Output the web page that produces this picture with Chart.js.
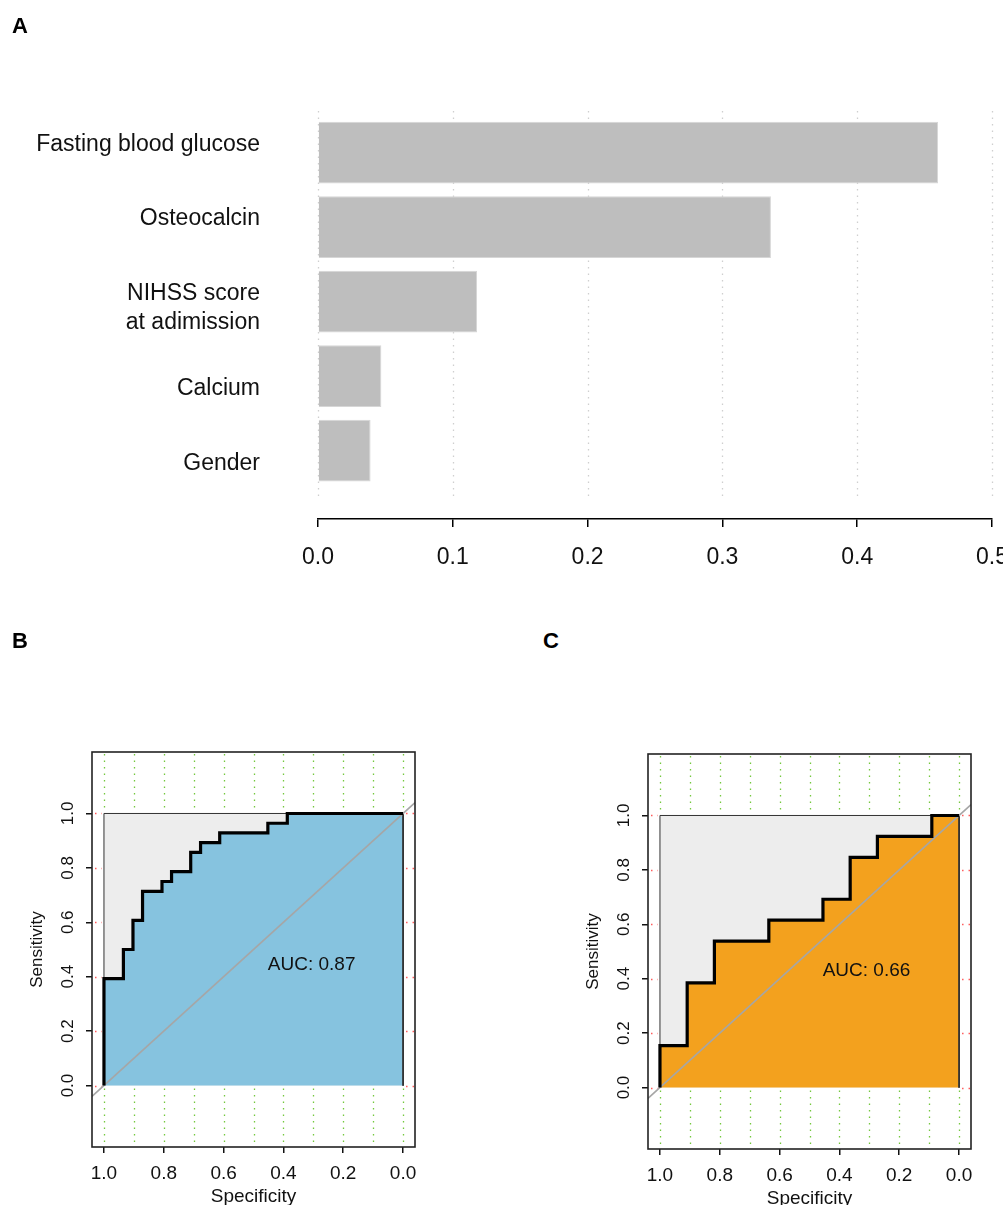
<!DOCTYPE html>
<html>
<head>
<meta charset="utf-8">
<script src="https://cdn.jsdelivr.net/npm/chart.js@4.4.1/dist/chart.umd.min.js"></script>
<style>
html,body{margin:0;padding:0;background:#fff;overflow:hidden;width:1003px;height:1205px;}
#wrap{position:relative;width:1003px;height:1205px;overflow:hidden;}
canvas{position:absolute;}
.lab{position:absolute;font:bold 22px "Liberation Sans",Arial,sans-serif;line-height:1;color:#000;}
</style>
</head>
<body>
<div id="wrap">
<canvas id="cA" width="1040" height="600" style="left:0;top:0"></canvas>
<canvas id="cB" width="480" height="520" style="left:0;top:700px"></canvas>
<canvas id="cC" width="480" height="520" style="left:556px;top:702px"></canvas>
<div class="lab" style="left:12px;top:15px">A</div>
<div class="lab" style="left:12px;top:630px">B</div>
<div class="lab" style="left:543px;top:630px">C</div>
</div>
<script>
// ---------- Panel A data ----------
const categories = ['Fasting blood glucose', 'Osteocalcin', ['NIHSS score', 'at adimission'], 'Calcium', 'Gender'];
const importance = [0.460, 0.336, 0.118, 0.047, 0.039];
const xTicksA = [0, 0.1, 0.2, 0.3, 0.4, 0.5];
const xTickLabelsA = ['0.0', '0.1', '0.2', '0.3', '0.4', '0.5'];

// ---------- Panel B / C data (ROC steps: sensitivity reached at each specificity) ----------
const rocB_spec = [1.000, 0.935, 0.903, 0.871, 0.806, 0.774, 0.710, 0.677, 0.613, 0.452, 0.387, 0.000];
const rocB_sens = [0.393, 0.500, 0.607, 0.714, 0.750, 0.786, 0.857, 0.893, 0.929, 0.964, 1.000, 1.000];
const aucB = 'AUC: 0.87';

const rocC_spec = [1.000, 0.909, 0.818, 0.636, 0.455, 0.364, 0.273, 0.091, 0.000];
const rocC_sens = [0.154, 0.385, 0.538, 0.615, 0.692, 0.846, 0.923, 1.000, 1.000];
const aucC = 'AUC: 0.66';

const rocTicks = [0, 0.2, 0.4, 0.6, 0.8, 1.0];
const rocTickLabels = ['0.0', '0.2', '0.4', '0.6', '0.8', '1.0'];
const specGrid = [0, 0.1, 0.2, 0.3, 0.4, 0.5, 0.6, 0.7, 0.8, 0.9, 1.0];
const sensGrid = [0, 0.2, 0.4, 0.6, 0.8, 1.0];
const squareSpec = [1, 1, 0, 0];
const squareSens = [0, 1, 1, 0];
const diagSpec = [1.04, -0.04];
const diagSens = [-0.04, 1.04];

Chart.defaults.font.family = '"Liberation Sans", Arial, Helvetica, sans-serif';
Chart.defaults.color = '#111';

// ---------- Panel A ----------
const barCenter = i => 0.7 + 1.2 * i;            // R barplot layout (width 1, space 0.2)
const labelNudge = [-0.13, -0.137, 0.10, 0.205, 0.215]; // label placement offsets (axis units)
const gridTopA = 0.028, gridBottomA = 6.246;

const gridPluginA = {
  id: 'gridA',
  beforeDatasetsDraw(chart) {
    const {ctx, scales: {x, y}} = chart;
    ctx.save();
    ctx.strokeStyle = '#CFCFCF';
    ctx.lineWidth = 1.3;
    ctx.setLineDash([1.5, 5]);
    const t = y.getPixelForValue(gridTopA), b = y.getPixelForValue(gridBottomA);
    xTicksA.forEach(v => {
      const px = Math.round(x.getPixelForValue(v)) + 0.5;
      ctx.beginPath(); ctx.moveTo(px, t); ctx.lineTo(px, b); ctx.stroke();
    });
    ctx.restore();
  }
};

new Chart(document.getElementById('cA'), {
  type: 'bar',
  data: {
    datasets: [{
      data: importance.map((v, i) => ({x: v, y: barCenter(i)})),
      backgroundColor: '#BEBEBE',
      borderColor: '#D6D6D6',
      borderWidth: 1,
      categoryPercentage: 1,
      barPercentage: 0.8333
    }]
  },
  options: {
    indexAxis: 'y',
    responsive: false,
    animation: false,
    events: [],
    layout: {padding: {top: 111, left: 0, right: 48, bottom: 0}},
    plugins: {legend: {display: false}, tooltip: {enabled: false}},
    scales: {
      x: {
        type: 'linear', min: 0, max: 0.5,
        afterBuildTicks: s => { s.ticks = xTicksA.map(v => ({value: v})); },
        ticks: {callback: (v, i) => xTickLabelsA[i], font: {size: 23}, color: '#111', padding: 17},
        grid: {drawOnChartArea: false, drawTicks: true, tickLength: 8, color: '#000', lineWidth: 1.5},
        border: {display: true, color: '#000', width: 1.5},
        afterFit: s => { s.height = 81; }
      },
      y: {
        type: 'linear', reverse: true, min: gridTopA, max: 6.6, offset: false,
        afterBuildTicks: s => { s.ticks = categories.map((c, i) => ({value: barCenter(i) + labelNudge[i]})); },
        ticks: {callback: (v, i) => categories[i], font: {size: 23, lineHeight: 1.27}, color: '#111', padding: 58},
        grid: {display: false, drawTicks: false, offset: false},
        border: {display: false},
        afterFit: s => { s.width = 318; }
      }
    }
  },
  plugins: [gridPluginA]
});

// ---------- ROC panels ----------
function stepVertices(spec, sens) {
  const pts = [{x: 1, y: 0}];
  let prev = 0;
  spec.forEach((s, i) => {
    pts.push({x: s, y: prev});
    pts.push({x: s, y: sens[i]});
    prev = sens[i];
  });
  return pts;
}

function makeRoc(id, spec, sens, fillColor, aucText, aucPos) {
  const curve = stepVertices(spec, sens);
  const polygon = curve.concat([{x: 0, y: 0}]);
  const square = squareSpec.map((s, i) => ({x: s, y: squareSens[i]}));
  const diag = diagSpec.map((s, i) => ({x: s, y: diagSens[i]}));

  const rocPlugin = {
    id: 'roc_' + id,
    beforeDatasetsDraw(chart) {
      // grid lines (the parts not hidden by the filled unit square)
      const {ctx, chartArea: a, scales: {x, y}} = chart;
      const y1 = y.getPixelForValue(1), y0 = y.getPixelForValue(0);
      const x1 = x.getPixelForValue(1), x0 = x.getPixelForValue(0);
      ctx.save();
      ctx.lineWidth = 1.3;
      ctx.setLineDash([1.5, 5]);
      ctx.strokeStyle = '#74C83E';
      specGrid.forEach(v => {
        const px = Math.round(x.getPixelForValue(v)) + 0.5;
        ctx.beginPath(); ctx.moveTo(px, a.top + 2); ctx.lineTo(px, y1 - 1); ctx.stroke();
        ctx.beginPath(); ctx.moveTo(px, y0 + 3); ctx.lineTo(px, a.bottom); ctx.stroke();
      });
      ctx.strokeStyle = '#FF5C5C';
      sensGrid.forEach(v => {
        const py = Math.round(y.getPixelForValue(v)) + 0.5;
        ctx.beginPath(); ctx.moveTo(a.left + 3, py); ctx.lineTo(x1 - 2, py); ctx.stroke();
        ctx.beginPath(); ctx.moveTo(x0 + 3, py); ctx.lineTo(a.right, py); ctx.stroke();
      });
      ctx.restore();
    },
    afterDatasetsDraw(chart) {
      const {ctx, chartArea: a, scales: {x, y}} = chart;
      ctx.save();
      ctx.fillStyle = '#111';
      ctx.font = '19px "Liberation Sans", Arial, sans-serif';
      ctx.textAlign = 'left';
      ctx.textBaseline = 'middle';
      ctx.fillText(aucText, x.getPixelForValue(aucPos[0]), y.getPixelForValue(aucPos[1]));
      ctx.strokeStyle = '#222';
      ctx.lineWidth = 1.6;
      ctx.strokeRect(a.left, a.top, a.right - a.left, a.bottom - a.top);
      ctx.restore();
    }
  };

  new Chart(document.getElementById(id), {
    type: 'scatter',
    data: {
      datasets: [
        {data: curve, showLine: true, borderColor: '#000', borderWidth: 3.2, pointRadius: 0, fill: false, order: 1,
         borderJoinStyle: 'miter', borderCapStyle: 'butt'},
        {data: diag, showLine: true, borderColor: '#A6A6A6', borderWidth: 1.6, pointRadius: 0, fill: false, order: 2},
        {data: polygon, showLine: true, borderColor: '#333', borderWidth: 1, pointRadius: 0,
         fill: 'origin', backgroundColor: fillColor, order: 3},
        {data: square, showLine: true, borderColor: '#333', borderWidth: 1, pointRadius: 0,
         fill: 'origin', backgroundColor: '#EDEDED', order: 4}
      ]
    },
    options: {
      responsive: false,
      animation: false,
      events: [],
      layout: {padding: {top: 52, left: 0, right: 65, bottom: 0}},
      plugins: {legend: {display: false}, tooltip: {enabled: false}},
      scales: {
        x: {
          type: 'linear', reverse: true, min: -0.04, max: 1.04,
          afterBuildTicks: s => { s.ticks = rocTicks.map(v => ({value: v})); },
          ticks: {callback: (v, i) => rocTickLabels[i], font: {size: 19}, color: '#111', padding: 9},
          grid: {drawOnChartArea: false, drawTicks: true, tickLength: 6, color: '#111', lineWidth: 1.5},
          border: {display: false},
          title: {display: true, text: 'Specificity', font: {size: 19}, color: '#111', padding: {top: 0, bottom: 12}},
          afterFit: s => { s.height = 73; }
        },
        y: {
          type: 'linear', min: -0.226, max: 1.226,
          afterBuildTicks: s => { s.ticks = rocTicks.map(v => ({value: v})); },
          ticks: {callback: (v, i) => rocTickLabels[i], font: {size: 17}, color: '#111', padding: 6,
                  minRotation: 90, maxRotation: 90, crossAlign: 'center'},
          grid: {drawOnChartArea: false, drawTicks: true, tickLength: 6, color: '#111', lineWidth: 1.5},
          border: {display: false},
          title: {display: true, text: 'Sensitivity', font: {size: 17}, color: '#111', padding: {top: 27, bottom: 0}},
          afterFit: s => { s.width = 92; }
        }
      }
    },
    plugins: [rocPlugin]
  });
}

makeRoc('cB', rocB_spec, rocB_sens, '#86C3DF', aucB, [0.452, 0.445]);
makeRoc('cC', rocC_spec, rocC_sens, '#F3A11E', aucC, [0.456, 0.43]);
</script>
</body>
</html>
